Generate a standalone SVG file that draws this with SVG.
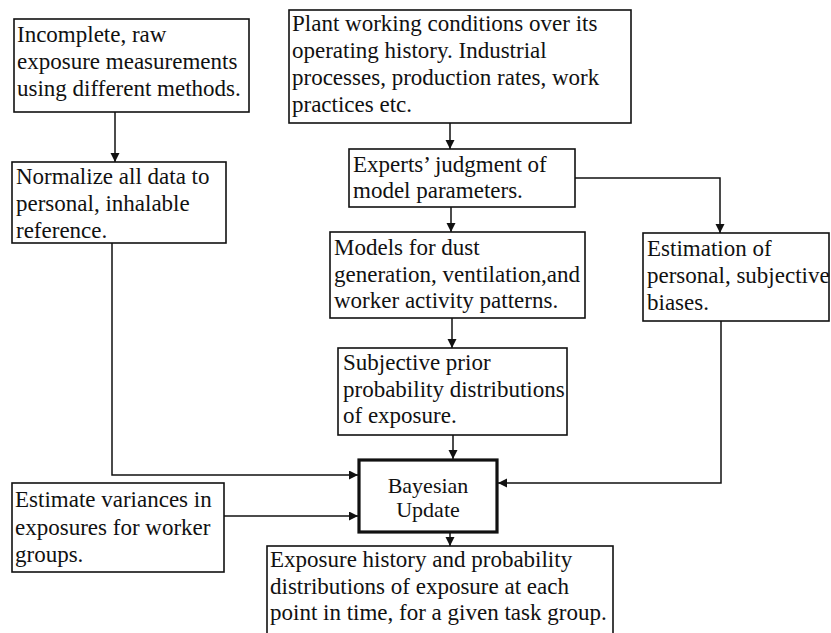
<svg xmlns="http://www.w3.org/2000/svg" width="831" height="633" viewBox="0 0 831 633">
<style>
.box{fill:#fff;stroke:#111;stroke-width:1.6}
.bold{fill:#fff;stroke:#111;stroke-width:3.2}
text{font-family:"Liberation Serif","Times New Roman",serif;font-size:23px;fill:#111}
.c{text-anchor:middle}
.ln{fill:none;stroke:#111;stroke-width:1.5}
</style>
<defs>
<marker id="ah" markerUnits="userSpaceOnUse" markerWidth="10" markerHeight="10" refX="9" refY="4.5" orient="auto">
<path d="M0,0 L9,4.5 L0,9 z" fill="#111"/>
</marker>
</defs>
<rect width="831" height="633" fill="#fff"/>
<g id="connectors">
<path class="ln" d="M115,112 L115,162" marker-end="url(#ah)"/>
<path class="ln" d="M450,123 L450,149" marker-end="url(#ah)"/>
<path class="ln" d="M451,207 L451,232" marker-end="url(#ah)"/>
<path class="ln" d="M575,178 L720,178 L720,233" marker-end="url(#ah)"/>
<path class="ln" d="M452,318 L452,348" marker-end="url(#ah)"/>
<path class="ln" d="M453,435 L453,459" marker-end="url(#ah)"/>
<path class="ln" d="M112,243 L112,475 L358,475" marker-end="url(#ah)"/>
<path class="ln" d="M224,516 L358,516" marker-end="url(#ah)"/>
<path class="ln" d="M721,321 L721,483 L498,483" marker-end="url(#ah)"/>
<path class="ln" d="M450,533 L450,546" marker-end="url(#ah)"/>
</g>
<g id="n1">
<rect class="box" x="14" y="19" width="235" height="93"/>
<text x="17" y="42">Incomplete, raw</text>
<text x="17" y="69">exposure measurements</text>
<text x="17" y="96">using different methods.</text>
</g>
<g id="n2">
<rect class="box" x="289" y="10" width="342" height="113"/>
<text x="292" y="31">Plant working conditions over its</text>
<text x="292" y="58">operating history. Industrial</text>
<text x="292" y="85">processes, production rates, work</text>
<text x="292" y="112">practices etc.</text>
</g>
<g id="n3">
<rect class="box" x="12" y="162" width="214" height="81"/>
<text x="16" y="184">Normalize all data to</text>
<text x="16" y="211">personal, inhalable</text>
<text x="16" y="238">reference.</text>
</g>
<g id="n4">
<rect class="box" x="349" y="149" width="226" height="58"/>
<text x="353" y="172">Experts’ judgment of</text>
<text x="353" y="198">model parameters.</text>
</g>
<g id="n5">
<rect class="box" x="330" y="232" width="255" height="86"/>
<text x="334" y="255">Models for dust</text>
<text x="334" y="282">generation, ventilation,and</text>
<text x="334" y="308">worker activity patterns.</text>
</g>
<g id="n6">
<rect class="box" x="643" y="233" width="186" height="88"/>
<text x="647" y="256">Estimation of</text>
<text x="647" y="283">personal, subjective</text>
<text x="647" y="310">biases.</text>
</g>
<g id="n7">
<rect class="box" x="338" y="348" width="229" height="87"/>
<text x="343" y="370">Subjective prior</text>
<text x="343" y="397">probability distributions</text>
<text x="343" y="423">of exposure.</text>
</g>
<g id="n8">
<rect class="bold" x="359" y="460" width="138" height="72"/>
<text class="c" x="428" y="493" style="font-size:22px">Bayesian</text>
<text class="c" x="428" y="517" style="font-size:22px">Update</text>
</g>
<g id="n9">
<rect class="box" x="12" y="483" width="212" height="89"/>
<text x="15" y="507">Estimate variances in</text>
<text x="15" y="535">exposures for worker</text>
<text x="15" y="562">groups.</text>
</g>
<g id="n10">
<rect class="box" x="267" y="546" width="346" height="100"/>
<text x="270" y="567">Exposure history and probability</text>
<text x="270" y="594">distributions of exposure at each</text>
<text x="270" y="620">point in time, for a given task group.</text>
</g>
</svg>
